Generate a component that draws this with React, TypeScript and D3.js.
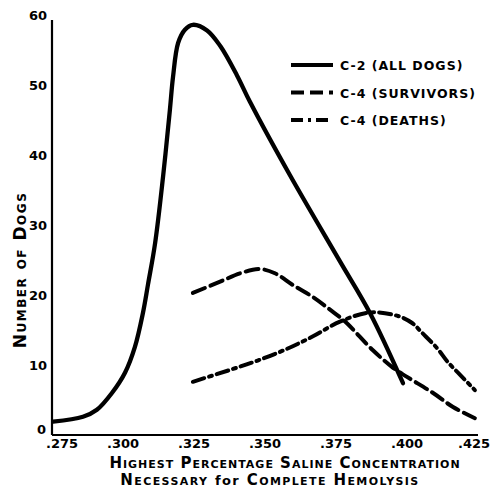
import React from "react";
import * as d3 from "d3";

const xTicks = [0.275, 0.3, 0.325, 0.35, 0.375, 0.4, 0.425];
const xTickLabels = [".275", ".300", ".325", ".350", ".375", ".400", ".425"];
const yTicks = [0, 10, 20, 30, 40, 50, 60];

const allDogsX = [0.2754, 0.2859, 0.2908, 0.2961, 0.3007, 0.3042, 0.307, 0.3088, 0.3113, 0.3141, 0.3165, 0.3176, 0.3194, 0.3218, 0.3246, 0.3296, 0.3342, 0.3401, 0.3447, 0.3588, 0.3764, 0.387, 0.3986];
const allDogsY = [1.9, 2.6, 3.6, 6.0, 8.9, 12.6, 17.4, 21.5, 27.4, 36.9, 46.4, 51.1, 56.0, 57.9, 58.6, 57.8, 55.6, 51.4, 47.6, 37.1, 24.8, 17.4, 7.4];

const survivorsX = [0.3246, 0.3342, 0.3412, 0.3482, 0.3535, 0.3599, 0.3669, 0.3729, 0.3782, 0.388, 0.3951, 0.4, 0.4092, 0.4162, 0.4239];
const survivorsY = [20.3, 21.9, 23.1, 23.7, 23.1, 21.4, 19.7, 17.9, 16.2, 12.1, 9.6, 8.3, 6.0, 4.0, 2.4];

const deathsX = [0.3246, 0.3377, 0.3472, 0.3577, 0.3669, 0.3764, 0.387, 0.3968, 0.4018, 0.4053, 0.4106, 0.4144, 0.4187, 0.4239];
const deathsY = [7.6, 9.3, 10.6, 12.3, 14.1, 16.2, 17.5, 17.0, 16.0, 14.6, 12.4, 10.4, 8.6, 6.4];

const legendLabels = ["C-2 (ALL DOGS)", "C-4 (SURVIVORS)", "C-4 (DEATHS)"];
const legendDash = ["", "13 6", "12 5 3 5"];

const W = 490;
const H = 488;
const FONT = "'DejaVu Sans', sans-serif";

export default function App() {
  const x = d3.scaleLinear().domain([0.275, 0.425]).range([52, 478]);
  const y = d3.scaleLinear().domain([0, 60]).range([435, 15]);
  const line = d3
    .line<[number, number]>()
    .x((d) => x(d[0]))
    .y((d) => y(d[1]))
    .curve(d3.curveCatmullRom.alpha(0.5));

  const zip = (a: number[], b: number[]) => a.map((v, i) => [v, b[i]] as [number, number]);

  return (
    <svg width={W} height={H} style={{ position: "absolute", left: 0, top: 0, background: "#fff" }}>
      {/* axes */}
      <line x1={x(0.275)} x2={x(0.275)} y1={20} y2={y(0)} stroke="#000" strokeWidth={2.2} />
      <line x1={x(0.275)} x2={x(0.425)} y1={y(0)} y2={y(0)} stroke="#000" strokeWidth={2.2} />

      {/* y tick labels */}
      {yTicks.map((t) => (
        <text
          key={t}
          x={t === 0 ? 46 : 47}
          y={y(t) + (t === 0 ? -1 : 5)}
          textAnchor="end"
          fontFamily={FONT}
          fontWeight="bold"
          fontSize={13}
        >
          {t}
        </text>
      ))}

      {/* x tick labels */}
      {xTicks.map((t, i) => (
        <text
          key={t}
          x={x(t) + (i === 0 ? 10 : i === 6 ? -4 : 0)}
          y={448}
          textAnchor="middle"
          fontFamily={FONT}
          fontWeight="bold"
          fontSize={13}
        >
          {xTickLabels[i]}
        </text>
      ))}

      {/* series */}
      <path d={line(zip(allDogsX, allDogsY)) || ""} fill="none" stroke="#000" strokeWidth={4.3} strokeLinecap="round" strokeLinejoin="round" />
      <path
        d={line(zip(survivorsX, survivorsY)) || ""}
        fill="none"
        stroke="#000"
        strokeWidth={4}
        strokeDasharray={legendDash[1]}
        strokeLinecap="round"
      />
      <path
        d={line(zip(deathsX, deathsY)) || ""}
        fill="none"
        stroke="#000"
        strokeWidth={4}
        strokeDasharray={legendDash[2]}
        strokeLinecap="round"
      />

      {/* legend */}
      {legendLabels.map((lab, i) => (
        <g key={lab} transform={`translate(0, ${65 + i * 27.5})`}>
          <line
            x1={291}
            x2={333}
            y1={0}
            y2={0}
            stroke="#000"
            strokeWidth={4}
            strokeDasharray={legendDash[i] || undefined}
          />
          <text x={340} y={5} fontFamily={FONT} fontWeight="bold" fontSize={12.5} letterSpacing={1}>
            {lab}
          </text>
        </g>
      ))}

      {/* y axis title */}
      <text
        transform={`translate(26, 270) rotate(-90)`}
        textAnchor="middle"
        fontFamily={FONT}
        fontWeight="bold"
        fontSize={17}
        letterSpacing={1.5}
        style={{ fontVariant: "small-caps" }}
      >
        Number of Dogs
      </text>

      {/* x axis title */}
      <text
        x={285}
        y={468}
        textAnchor="middle"
        fontFamily={FONT}
        fontWeight="bold"
        fontSize={15}
        letterSpacing={1}
        style={{ fontVariant: "small-caps" }}
      >
        Highest Percentage Saline Concentration
      </text>
      <text
        x={270}
        y={485}
        textAnchor="middle"
        fontFamily={FONT}
        fontWeight="bold"
        fontSize={15}
        letterSpacing={1.4}
        style={{ fontVariant: "small-caps" }}
      >
        Necessary <tspan style={{ fontVariant: "normal" }} fontSize={13}>for</tspan> Complete Hemolysis
      </text>
    </svg>
  );
}
